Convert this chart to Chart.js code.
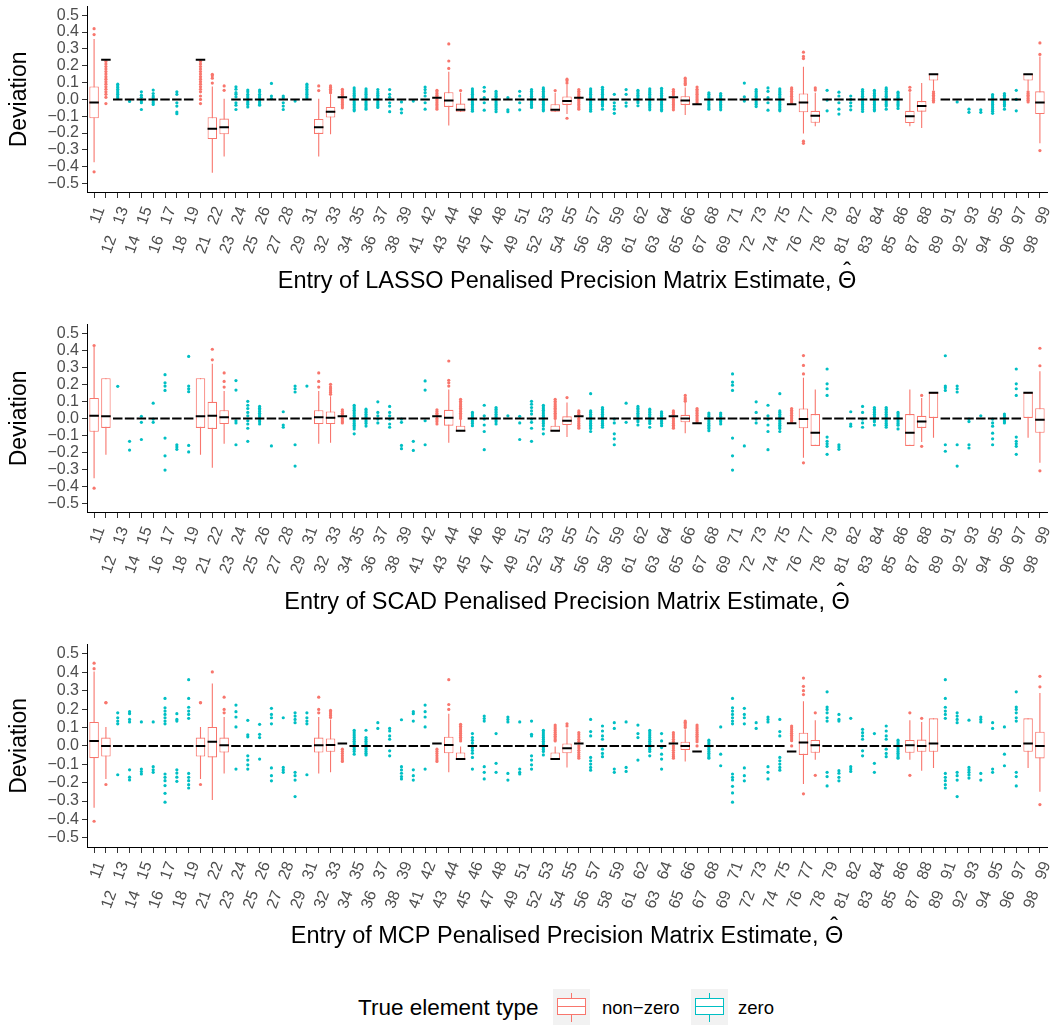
<!DOCTYPE html>
<html>
<head>
<meta charset="utf-8">
<script src="https://cdn.jsdelivr.net/npm/chart.js@4.4.1/dist/chart.umd.min.js"></script>
<style>
  body { margin: 0; background: #fff; font-family: "Liberation Sans", Arial, Helvetica, sans-serif; }
  #page { position: relative; width: 1057px; height: 1025px; overflow: hidden; background: #fff; }
  .panel { position: absolute; left: 0; width: 1057px; }
  #legendTitle { position: absolute; left: 358px; top: 995px; font-size: 22.5px; line-height: 26px; color: #000; white-space: nowrap; }
  .key { position: absolute; top: 989px; width: 37px; height: 36px; background: #F2F2F2; }
  .key .whisker { position: absolute; left: 18px; top: 4px; width: 1.2px; height: 29px; }
  .key .box { position: absolute; left: 4px; top: 9px; width: 29px; height: 17px; box-sizing: border-box; border: 1.2px solid; background: #fff; }
  .key .mid { position: absolute; left: 4px; top: 17px; width: 29px; height: 1.2px; }
  .legendLabel { position: absolute; top: 997px; font-size: 18.5px; line-height: 22px; color: #000; white-space: nowrap; }
</style>
</head>
<body>
<div id="page">
  <div class="panel" style="top:0px;height:300px"><canvas id="lassoChart"></canvas></div>
  <div class="panel" style="top:318px;height:303px"><canvas id="scadChart"></canvas></div>
  <div class="panel" style="top:638px;height:317px"><canvas id="mcpChart"></canvas></div>

  <div id="legendTitle">True element type</div>
  <div class="key" style="left:553px">
    <div class="whisker" style="background:#F8766D"></div>
    <div class="box" style="border-color:#F8766D"></div>
    <div class="mid" style="background:#F8766D"></div>
  </div>
  <div class="legendLabel" style="left:602px">non&minus;zero</div>
  <div class="key" style="left:691px">
    <div class="whisker" style="background:#00BFC4"></div>
    <div class="box" style="border-color:#00BFC4"></div>
    <div class="mid" style="background:#00BFC4"></div>
  </div>
  <div class="legendLabel" style="left:738px">zero</div>
</div>

<script>
// matrix entries, row-major
const entries = [
  '11','12','13','14','15','16','17','18','19',
  '21','22','23','24','25','26','27','28','29',
  '31','32','33','34','35','36','37','38','39',
  '41','42','43','44','45','46','47','48','49',
  '51','52','53','54','55','56','57','58','59',
  '61','62','63','64','65','66','67','68','69',
  '71','72','73','74','75','76','77','78','79',
  '81','82','83','84','85','86','87','88','89',
  '91','92','93','94','95','96','97','98','99'
];

// 1 = true element is non-zero (tridiagonal)
const nonZero = [
  1,1,0,0,0,0,0,0,0,
  1,1,1,0,0,0,0,0,0,
  0,1,1,1,0,0,0,0,0,
  0,0,1,1,1,0,0,0,0,
  0,0,0,1,1,1,0,0,0,
  0,0,0,0,1,1,1,0,0,
  0,0,0,0,0,1,1,1,0,
  0,0,0,0,0,0,1,1,1,
  0,0,0,0,0,0,0,1,1
];

const yTicks = [-0.5, -0.4, -0.3, -0.2, -0.1, 0, 0.1, 0.2, 0.3, 0.4, 0.5];

// ---- LASSO ----
const lassoQ1 = [
  -0.112, 0.236, 0, 0, 0, 0, 0, 0, 0,
  0.236, -0.236, -0.207, 0, 0, 0, 0, 0, 0,
  0, -0.205, -0.108, 0.012, 0, 0, 0, 0, 0,
  0, 0, 0.01, -0.045, -0.073, 0, 0, 0, 0,
  0, 0, 0, -0.073, -0.033, 0.01, 0, 0, 0,
  0, 0, 0, 0, 0.012, -0.033, -0.029, 0, 0,
  0, 0, 0, 0, 0, -0.029, -0.077, -0.139, 0,
  0, 0, 0, 0, 0, 0, -0.141, -0.073, 0.112,
  0, 0, 0, 0, 0, 0, 0, 0.112, -0.087
];
const lassoMed = [
  -0.019, 0.236, 0, 0, 0, 0, 0, 0, 0,
  0.236, -0.174, -0.166, 0, 0, 0, 0, 0, 0,
  0, -0.166, -0.073, 0.012, 0, 0, 0, 0, 0,
  0, 0, 0.01, -0.006, -0.062, 0, 0, 0, 0,
  0, 0, 0, -0.062, -0.01, 0.01, 0, 0, 0,
  0, 0, 0, 0, 0.012, -0.006, -0.029, 0, 0,
  0, 0, 0, 0, 0, -0.029, -0.019, -0.097, 0,
  0, 0, 0, 0, 0, 0, -0.1, -0.039, 0.149,
  0, 0, 0, 0, 0, 0, 0, 0.149, -0.019
];
const lassoQ3 = [
  0.077, 0.236, 0, 0, 0, 0, 0, 0, 0,
  0.236, -0.106, -0.114, 0, 0, 0, 0, 0, 0,
  0, -0.116, -0.045, 0.012, 0, 0, 0, 0, 0,
  0, 0, 0.01, 0.043, -0.025, 0, 0, 0, 0,
  0, 0, 0, -0.029, 0.017, 0.01, 0, 0, 0,
  0, 0, 0, 0, 0.012, 0.019, -0.029, 0, 0,
  0, 0, 0, 0, 0, -0.029, 0.035, -0.068, 0,
  0, 0, 0, 0, 0, 0, -0.068, -0.01, 0.151,
  0, 0, 0, 0, 0, 0, 0, 0.151, 0.048
];
const lassoLo = [
  -0.373, 0.236, 0, 0, 0, 0, 0, 0, 0,
  0.236, -0.435, -0.339, 0, 0, 0, 0, 0, 0,
  0, -0.339, -0.207, 0.012, 0, 0, 0, 0, 0,
  0, 0, 0.01, -0.155, -0.075, 0, 0, 0, 0,
  0, 0, 0, -0.075, -0.087, 0.01, 0, 0, 0,
  0, 0, 0, 0, 0.012, -0.093, -0.029, 0, 0,
  0, 0, 0, 0, 0, -0.029, -0.203, -0.159, 0,
  0, 0, 0, 0, 0, 0, -0.159, -0.17, 0.054,
  0, 0, 0, 0, 0, 0, 0, 0.054, -0.261
];
const lassoHi = [
  0.358, 0.236, 0, 0, 0, 0, 0, 0, 0,
  0.236, 0.077, 0.004, 0, 0, 0, 0, 0, 0,
  0, 0.004, 0.03, 0.012, 0, 0, 0, 0, 0,
  0, 0, 0.01, 0.164, 0.039, 0, 0, 0, 0,
  0, 0, 0, 0.039, 0.087, 0.01, 0, 0, 0,
  0, 0, 0, 0, 0.012, 0.07, -0.029, 0, 0,
  0, 0, 0, 0, 0, -0.029, 0.193, 0.039, 0,
  0, 0, 0, 0, 0, 0, 0.043, 0.097, 0.151,
  0, 0, 0, 0, 0, 0, 0, 0.151, 0.255
];
const lassoOut = [
  // 11-19
  [0.42, 0.385, -0.43],
  [0.225, 0.21, 0.195, 0.18, 0.165, 0.15, 0.135, 0.12, 0.105, 0.09, 0.075, 0.06, 0.045, 0.03, 0.012, -0.025],
  [0.09, 0.08, 0.07, 0.06, 0.05, 0.04, 0.03, 0.02, 0.01],
  [-0.012],
  [0.045, 0.025, 0.012, -0.01, -0.02, -0.06],
  [0.055, 0.035, 0.02, 0.01, -0.01, -0.02, -0.03],
  [],
  [0.045, 0.03, -0.02, -0.04, -0.075, -0.085],
  [],
  // 21-29
  [0.225, 0.21, 0.195, 0.18, 0.165, 0.15, 0.135, 0.12, 0.105, 0.09, 0.075, 0.06, 0.045, 0.02, 0.0, -0.025],
  [0.097, 0.126, 0.14, 0.149],
  [0.054, 0.08],
  [0.075, 0.06, 0.04, 0.03, 0.015, -0.02, -0.035, -0.06],
  [0.055, 0.045, 0.03, 0.02, 0.01, -0.01, -0.02, -0.03, -0.045],
  [0.055, 0.045, 0.03, 0.02, 0.01, -0.01, -0.02, -0.03, -0.035],
  [0.095, 0.02, 0.005],
  [0.02, 0.01, -0.02, -0.04, -0.06],
  [-0.01],
  // 31-39
  [0.09, 0.08, 0.07, 0.06, 0.05, 0.04, 0.03, 0.02, 0.01],
  [0.052, 0.08],
  [0.04, 0.05, 0.06, 0.07, 0.08],
  [0.06, 0.05, 0.04, 0.03, 0.02, 0.0, -0.01, -0.02, -0.03, -0.04, -0.05],
  [0.068, 0.055, 0.045, 0.035, 0.025, 0.015, 0.005, -0.01, -0.02, -0.03, -0.04, -0.05, -0.06, -0.068],
  [0.062, 0.05, 0.04, 0.03, 0.02, 0.01, -0.01, -0.02, -0.03, -0.04, -0.05, -0.058],
  [0.058, 0.045, 0.035, 0.025, 0.015, 0.005, -0.01, -0.02, -0.03, -0.04, -0.048],
  [0.058, 0.03, 0.012, -0.02, -0.04, -0.073],
  [-0.015, -0.058, -0.08],
  // 41-49
  [-0.01],
  [0.073, 0.058, 0.04, 0.02, -0.02, -0.058],
  [0.054, 0.045, 0.035, 0.025, 0.015, 0.0, -0.01, -0.02, -0.03, -0.04, -0.05, -0.058],
  [0.184, 0.228, 0.329],
  [0.052],
  [0.062, 0.05, 0.04, 0.03, 0.02, 0.01, -0.01, -0.02, -0.03, -0.04, -0.05, -0.06, -0.07],
  [0.072, 0.048, 0.01, -0.02, -0.064],
  [0.048, 0.038, 0.028, 0.018, 0.008, -0.01, -0.02, -0.03, -0.04, -0.05, -0.06, -0.073],
  [0.01, -0.062, -0.073],
  // 51-59
  [0.048, 0.02, -0.02, -0.062],
  [0.058, 0.048, 0.038, 0.028, 0.018, 0.008, -0.01, -0.02, -0.03, -0.04, -0.048],
  [0.068, 0.058, 0.048, 0.038, 0.028, 0.018, 0.008, -0.01, -0.02, -0.03, -0.04, -0.05, -0.06, -0.068],
  [0.052],
  [0.097, 0.11, 0.12, -0.112],
  [0.058, 0.048, 0.038, 0.028, 0.018, 0.0, -0.01, -0.02, -0.03, -0.04, -0.05, -0.058],
  [0.062, 0.05, 0.04, 0.03, 0.02, 0.01, -0.01, -0.02, -0.03, -0.04, -0.05, -0.06, -0.07],
  [0.072, 0.06, 0.05, 0.04, 0.03, 0.02, 0.01, -0.01, -0.02, -0.03, -0.04, -0.058],
  [0.03, -0.02, -0.04, -0.058, -0.083],
  // 61-69
  [0.058, 0.03, -0.02, -0.04],
  [0.054, 0.045, 0.035, 0.025, 0.015, 0.005, -0.01, -0.02, -0.038],
  [0.062, 0.05, 0.04, 0.03, 0.02, 0.01, -0.01, -0.02, -0.03, -0.04, -0.05, -0.062],
  [0.066, 0.055, 0.045, 0.035, 0.025, 0.015, 0.005, -0.01, -0.02, -0.03, -0.04, -0.05, -0.06, -0.068],
  [0.058, 0.048, 0.038, 0.028, 0.0, -0.01, -0.02, -0.03, -0.04, -0.05, -0.062],
  [0.087, 0.095, 0.105, 0.115, 0.126],
  [0.073, 0.06, 0.05, 0.04, 0.03, 0.02, 0.01, 0.0, -0.01, -0.02],
  [0.039, 0.03, 0.02, 0.01, -0.01, -0.02, -0.03, -0.04, -0.05, -0.058],
  [0.035, 0.025, 0.015, 0.005, -0.01, -0.02, -0.03, -0.04, -0.05, -0.062],
  // 71-79
  [],
  [0.097, 0.015, -0.01],
  [0.058, 0.048, 0.038, 0.028, 0.018, 0.008, -0.01, -0.02, -0.03, -0.043],
  [0.068, 0.048, 0.01, -0.02, -0.064],
  [0.062, 0.05, 0.04, 0.03, 0.02, 0.01, -0.01, -0.02, -0.03, -0.04, -0.05, -0.06, -0.068],
  [0.068, 0.058, 0.048, 0.038, 0.028, 0.018, 0.008, 0.0, -0.01, -0.02],
  [0.242, 0.255, 0.28, -0.248, -0.261],
  [0.055, 0.068],
  [0.054, -0.004, -0.068],
  // 81-89
  [0.043, 0.02, -0.02, -0.058, -0.087],
  [0.02, 0.0, -0.02, -0.04, -0.062],
  [0.058, 0.048, 0.038, 0.028, 0.018, 0.008, -0.01, -0.02, -0.03, -0.04, -0.05, -0.06, -0.072],
  [0.054, 0.045, 0.035, 0.025, 0.015, 0.005, -0.01, -0.02, -0.03, -0.04, -0.05, -0.06, -0.068],
  [0.068, 0.058, 0.048, 0.038, 0.028, 0.018, 0.008, -0.01, -0.02, -0.03, -0.04, -0.058],
  [0.043, 0.033, 0.023, 0.013, 0.003, -0.01, -0.02, -0.03, -0.04, -0.054],
  [0.054, 0.072],
  [],
  [0.045, 0.035, 0.025, 0.015, 0.005, -0.005, -0.015],
  // 91-99
  [],
  [-0.015],
  [-0.058, -0.077],
  [-0.062, -0.077],
  [0.029, 0.02, 0.01, -0.01, -0.02, -0.03, -0.04, -0.05, -0.06, -0.07, -0.083],
  [0.035, 0.025, 0.015, 0.005, -0.01, -0.02, -0.03, -0.04, -0.058],
  [0.054, 0.0, -0.068],
  [0.045, 0.035, 0.025, 0.015, 0.005, -0.005, -0.015],
  [0.267, 0.335, -0.304]
];

// ---- SCAD ----
const scadQ1 = [
  -0.079, -0.056, 0, 0, 0, 0, 0, 0, 0,
  -0.056, -0.062, -0.033, 0, 0, 0, 0, 0, 0,
  0, -0.033, -0.033, 0.012, 0, 0, 0, 0, 0,
  0, 0, 0.012, -0.043, -0.075, 0, 0, 0, 0,
  0, 0, 0, -0.075, -0.039, 0.012, 0, 0, 0,
  0, 0, 0, 0, 0.012, -0.023, -0.029, 0, 0,
  0, 0, 0, 0, 0, -0.029, -0.058, -0.162, 0,
  0, 0, 0, 0, 0, 0, -0.162, -0.056, 0,
  0, 0, 0, 0, 0, 0, 0, 0, -0.085
];
const scadMed = [
  0.015, 0.012, 0, 0, 0, 0, 0, 0, 0,
  0.012, 0.015, 0.006, 0, 0, 0, 0, 0, 0,
  0, 0.006, 0.004, 0.012, 0, 0, 0, 0, 0,
  0, 0, 0.012, 0.004, -0.072, 0, 0, 0, 0,
  0, 0, 0, -0.072, -0.014, 0.012, 0, 0, 0,
  0, 0, 0, 0, 0.012, 0, -0.029, 0, 0,
  0, 0, 0, 0, 0, -0.029, -0.004, -0.085, 0,
  0, 0, 0, 0, 0, 0, -0.085, -0.019, 0.151,
  0, 0, 0, 0, 0, 0, 0, 0.151, -0.008
];
const scadQ3 = [
  0.12, 0.236, 0, 0, 0, 0, 0, 0, 0,
  0.236, 0.097, 0.048, 0, 0, 0, 0, 0, 0,
  0, 0.048, 0.041, 0.012, 0, 0, 0, 0, 0,
  0, 0, 0.012, 0.05, -0.043, 0, 0, 0, 0,
  0, 0, 0, -0.043, 0.012, 0.012, 0, 0, 0,
  0, 0, 0, 0, 0.012, 0.021, -0.029, 0, 0,
  0, 0, 0, 0, 0, -0.029, 0.058, 0.025, 0,
  0, 0, 0, 0, 0, 0, 0.025, 0.015, 0.151,
  0, 0, 0, 0, 0, 0, 0, 0.151, 0.06
];
const scadLo = [
  -0.352, -0.213, 0, 0, 0, 0, 0, 0, 0,
  -0.213, -0.29, -0.149, 0, 0, 0, 0, 0, 0,
  0, -0.149, -0.143, 0.012, 0, 0, 0, 0, 0,
  0, 0, 0.012, -0.143, -0.075, 0, 0, 0, 0,
  0, 0, 0, -0.075, -0.11, 0.012, 0, 0, 0,
  0, 0, 0, 0, 0.012, -0.087, -0.029, 0, 0,
  0, 0, 0, 0, 0, -0.029, -0.232, -0.162, 0,
  0, 0, 0, 0, 0, 0, -0.162, -0.139, -0.114,
  0, 0, 0, 0, 0, 0, 0, -0.114, -0.261
];
const scadHi = [
  0.42, 0.236, 0, 0, 0, 0, 0, 0, 0,
  0.236, 0.321, 0.161, 0, 0, 0, 0, 0, 0,
  0, 0.161, 0.13, 0.012, 0, 0, 0, 0, 0,
  0, 0, 0.012, 0.17, -0.01, 0, 0, 0, 0,
  0, 0, 0, -0.01, 0.093, 0.012, 0, 0, 0,
  0, 0, 0, 0, 0.012, 0.09, -0.029, 0, 0,
  0, 0, 0, 0, 0, -0.029, 0.238, 0.17, 0,
  0, 0, 0, 0, 0, 0, 0.17, 0.12, 0.151,
  0, 0, 0, 0, 0, 0, 0, 0.151, 0.277
];
const scadOut = [
  // 11-19
  [0.428, -0.41],
  [],
  [0.188],
  [-0.135, -0.186],
  [0.012, -0.023, -0.124],
  [0.089, -0.004, -0.023],
  [0.257, 0.209, 0.19, 0.164, -0.116, -0.22, -0.304],
  [-0.155, -0.168, -0.182],
  [0.364, 0.19, 0.174, 0.157, -0.159, -0.197],
  // 21-29
  [],
  [0.344, 0.406],
  [0.184, 0.217, 0.267],
  [0.222, 0.166, -0.014, -0.027, -0.155],
  [0.1, 0.077, 0.058, 0.035, 0.015, -0.014, -0.033, -0.058, -0.135],
  [0.07, 0.06, 0.05, 0.04, 0.03, 0.02, 0.01, -0.01, -0.02, -0.033],
  [-0.162],
  [0.039, -0.039, -0.052],
  [0.19, 0.174, 0.155, -0.155, -0.28],
  // 31-39
  [0.19],
  [0.184, 0.217, 0.267],
  [0.141, 0.152, 0.163, 0.174, 0.185, 0.2],
  [0.05, 0.04, 0.03, 0.02, 0.0, -0.01, -0.02, -0.027],
  [0.077, 0.067, 0.057, 0.047, 0.037, 0.027, 0.017, 0.007, -0.01, -0.02, -0.03, -0.04, -0.05, -0.062, -0.091],
  [0.054, 0.044, 0.034, 0.024, 0.014, 0.004, -0.01, -0.02, -0.03, -0.045],
  [0.097, 0.035, 0.015, -0.004, -0.027],
  [0.07, 0.035, 0.015, -0.004, -0.033, -0.052],
  [-0.004, -0.023, -0.159, -0.178],
  // 41-49
  [-0.135, -0.188],
  [0.22, 0.166, -0.014, -0.155],
  [0.05, 0.04, 0.03, 0.02, 0.0, -0.01, -0.02, -0.033],
  [0.19, 0.209, 0.224, 0.337],
  [0.112, 0.1, 0.09, 0.08, 0.07, 0.06, 0.05, 0.04, 0.03, 0.02, 0.01, 0.0],
  [0.035, 0.025, 0.015, 0.005, -0.01, -0.02, -0.03, -0.043],
  [0.077, 0.015, -0.004, -0.039, -0.077, -0.184],
  [0.064, 0.054, 0.044, 0.034, 0.024, 0.014, 0.004, -0.01, -0.02, -0.033],
  [0.015],
  // 51-59
  [0.012, -0.027, -0.124],
  [0.1, 0.083, 0.064, 0.044, 0.025, -0.004, -0.023, -0.058, -0.135],
  [0.077, 0.067, 0.057, 0.047, 0.037, 0.027, 0.017, 0.007, -0.01, -0.02, -0.03, -0.043, -0.062, -0.091],
  [0.112, 0.1, 0.09, 0.08, 0.07, 0.06, 0.05, 0.04, 0.03, 0.02, 0.01, 0.0],
  [0.122],
  [0.044, 0.034, 0.024, 0.0, -0.01, -0.02, -0.03, -0.04, -0.05, -0.058],
  [0.145, 0.044, 0.034, 0.024, 0.014, 0.004, -0.01, -0.02, -0.03, -0.04, -0.05, -0.06, -0.077],
  [0.064, 0.054, 0.044, 0.034, 0.024, 0.014, 0.004, -0.01, -0.02, -0.03, -0.04, -0.052],
  [-0.004, -0.027, -0.091, -0.12, -0.155],
  // 61-69
  [0.089, -0.023],
  [0.07, 0.06, 0.05, 0.04, 0.03, 0.02, 0.01, -0.01, -0.02, -0.039],
  [0.054, 0.044, 0.034, 0.024, 0.014, 0.004, -0.01, -0.02, -0.03, -0.052],
  [0.039, 0.029, 0.019, 0.009, -0.01, -0.02, -0.03, -0.043],
  [0.044, 0.034, 0.024, 0.0, -0.01, -0.02, -0.03, -0.04, -0.05, -0.058],
  [0.1, 0.11, 0.12, 0.135],
  [0.058, 0.048, 0.038, 0.028, 0.018, 0.008, -0.002, -0.012, -0.022],
  [0.031, 0.021, 0.011, -0.01, -0.02, -0.03, -0.04, -0.05, -0.06, -0.072],
  [0.031, 0.021, 0.011, -0.01, -0.02, -0.033],
  // 71-79
  [0.261, 0.213, 0.195, 0.164, -0.116, -0.22, -0.304],
  [-0.162],
  [0.097, 0.035, -0.004, -0.027],
  [0.077, 0.015, -0.004, -0.039, -0.077, -0.184],
  [0.145, 0.044, 0.034, 0.024, 0.014, 0.004, -0.01, -0.02, -0.03, -0.04, -0.05, -0.06, -0.077],
  [0.058, 0.048, 0.038, 0.028, 0.018, 0.008, -0.002, -0.012, -0.022],
  [0.261, 0.311, 0.369, -0.261],
  [],
  [0.29, 0.203, 0.174, 0.135, -0.11, -0.135, -0.149, -0.164, -0.211],
  // 81-89
  [-0.155, -0.168, -0.182],
  [0.039, -0.033, -0.046],
  [0.07, 0.035, -0.004, -0.027, -0.052],
  [0.064, 0.054, 0.044, 0.034, 0.024, 0.014, 0.004, -0.01, -0.02, -0.039],
  [0.064, 0.054, 0.044, 0.034, 0.024, 0.014, 0.004, -0.01, -0.02, -0.03, -0.04, -0.052],
  [0.035, 0.025, 0.015, 0.005, -0.01, -0.02, -0.03, -0.04, -0.062],
  [],
  [0.135, -0.164],
  [],
  // 91-99
  [0.368, 0.19, 0.18, 0.164, -0.155, -0.193],
  [0.19, 0.174, 0.155, -0.155, -0.28],
  [-0.004, -0.019, -0.155, -0.174],
  [0.015],
  [-0.004, -0.027, -0.046, -0.087, -0.12, -0.155],
  [0.025, 0.015, 0.005, -0.01, -0.02, -0.027],
  [0.29, 0.203, 0.174, 0.135, -0.11, -0.135, -0.149, -0.164, -0.211],
  [],
  [0.309, 0.412, -0.308]
];

// ---- MCP ----
const mcpQ1 = [
  -0.067, -0.058, 0, 0, 0, 0, 0, 0, 0,
  -0.058, -0.063, -0.036, 0, 0, 0, 0, 0, 0,
  0, -0.036, -0.032, 0.013, 0, 0, 0, 0, 0,
  0, 0, 0.013, -0.04, -0.076, 0, 0, 0, 0,
  0, 0, 0, -0.076, -0.04, 0.013, 0, 0, 0,
  0, 0, 0, 0, 0.013, -0.023, -0.031, 0, 0,
  0, 0, 0, 0, 0, -0.031, -0.049, -0.038, 0,
  0, 0, 0, 0, 0, 0, -0.038, -0.032, -0.032,
  0, 0, 0, 0, 0, 0, 0, -0.032, -0.068
];
const mcpMed = [
  0.027, 0, 0, 0, 0, 0, 0, 0, 0,
  0, 0.022, 0.004, 0, 0, 0, 0, 0, 0,
  0, 0.004, 0.005, 0.013, 0, 0, 0, 0, 0,
  0, 0, 0.013, 0.005, -0.072, 0, 0, 0, 0,
  0, 0, 0, -0.072, -0.013, 0.013, 0, 0, 0,
  0, 0, 0, 0, 0.013, 0, -0.031, 0, 0,
  0, 0, 0, 0, 0, -0.031, 0.018, 0.004, 0,
  0, 0, 0, 0, 0, 0, 0.004, 0, 0.013,
  0, 0, 0, 0, 0, 0, 0, 0.013, 0
];
const mcpQ3 = [
  0.13, 0.045, 0, 0, 0, 0, 0, 0, 0,
  0.045, 0.103, 0.045, 0, 0, 0, 0, 0, 0,
  0, 0.045, 0.04, 0.013, 0, 0, 0, 0, 0,
  0, 0, 0.013, 0.05, -0.036, 0, 0, 0, 0,
  0, 0, 0, -0.036, 0.013, 0.013, 0, 0, 0,
  0, 0, 0, 0, 0.013, 0.023, -0.031, 0, 0,
  0, 0, 0, 0, 0, -0.031, 0.072, 0.032, 0,
  0, 0, 0, 0, 0, 0, 0.032, 0.034, 0.15,
  0, 0, 0, 0, 0, 0, 0, 0.15, 0.077
];
const mcpLo = [
  -0.337, -0.18, 0, 0, 0, 0, 0, 0, 0,
  -0.18, -0.294, -0.15, 0, 0, 0, 0, 0, 0,
  0, -0.15, -0.144, 0.013, 0, 0, 0, 0, 0,
  0, 0, 0.013, -0.144, -0.076, 0, 0, 0, 0,
  0, 0, 0, -0.076, -0.117, 0.013, 0, 0, 0,
  0, 0, 0, 0, 0.013, -0.085, -0.031, 0, 0,
  0, 0, 0, 0, 0, -0.031, -0.207, -0.076, 0,
  0, 0, 0, 0, 0, 0, -0.076, -0.135, -0.121,
  0, 0, 0, 0, 0, 0, 0, -0.121, -0.249
];
const mcpHi = [
  0.405, 0.103, 0, 0, 0, 0, 0, 0, 0,
  0.103, 0.339, 0.157, 0, 0, 0, 0, 0, 0,
  0, 0.157, 0.144, 0.013, 0, 0, 0, 0, 0,
  0, 0, 0.013, 0.175, 0, 0, 0, 0, 0,
  0, 0, 0, 0, 0.095, 0.013, 0, 0, 0,
  0, 0, 0, 0, 0.013, 0.09, -0.031, 0, 0,
  0, 0, 0, 0, 0, -0.031, 0.243, 0.139, 0,
  0, 0, 0, 0, 0, 0, 0.139, 0.13, 0.15,
  0, 0, 0, 0, 0, 0, 0, 0.15, 0.288
];
const mcpOut = [
  // 11-19
  [0.42, 0.45, -0.41],
  [0.234, 0.236, -0.21],
  [0.18, 0.153, 0.135, 0.12, -0.157],
  [0.186, 0.175, 0.144, 0.13, -0.13, -0.17, -0.185],
  [0.13, -0.126, -0.14, -0.153],
  [0.13, -0.113, -0.13, -0.144],
  [0.258, 0.207, 0.189, 0.171, 0.153, 0.135, 0.12, -0.153, -0.171, -0.189, -0.216, -0.258, -0.306],
  [0.175, 0.144, 0.135, -0.13, -0.148, -0.17, -0.193],
  [0.36, 0.258, 0.21, 0.189, 0.171, 0.15, -0.15, -0.171, -0.189, -0.211, -0.229],
  // 21-29
  [0.234, 0.236, -0.21],
  [0.402],
  [0.18, 0.198, 0.265],
  [0.222, 0.186, 0.157, 0.103, -0.126],
  [0.139, 0.06, 0.049, -0.054, -0.077, -0.103, -0.126],
  [0.117, 0.063, 0.045, -0.072],
  [0.204, 0.171, 0.153, 0.12, -0.12, -0.162, -0.19],
  [0.153, -0.117, -0.131, -0.144],
  [0.18, 0.162, 0.144, 0.126, -0.144, -0.162, -0.186, -0.276],
  // 31-39
  [0.18, 0.153, 0.135, 0.12, -0.157],
  [0.18, 0.198, 0.265],
  [0.155, 0.165, 0.175, 0.185, 0.193],
  [-0.018, -0.03, -0.042, -0.054, -0.066, -0.077, -0.085],
  [0.085, 0.075, 0.065, 0.055, 0.045, 0.035, 0.025, 0.015, 0.005, -0.01, -0.02, -0.03, -0.045],
  [0.085, 0.045, 0.035, 0.025, 0.015, 0.005, -0.01, -0.02, -0.03, -0.04, -0.049],
  [0.126, 0.095],
  [0.095, 0.081, 0.054, 0.036, -0.027, -0.054],
  [0.142, -0.113, -0.131, -0.149, -0.167, -0.18],
  // 41-49
  [0.186, 0.175, 0.135, -0.13, -0.162, -0.186],
  [0.222, 0.186, 0.157, 0.103, -0.126],
  [-0.018, -0.03, -0.042, -0.054, -0.066, -0.077, -0.085],
  [0.198, 0.225, 0.36],
  [0.117, 0.107, 0.097, 0.087, 0.077, 0.067, 0.057, 0.047, 0.037, 0.027],
  [0.067, 0.045, 0.03, 0.015, -0.01, -0.025, -0.04, -0.063, -0.126],
  [0.162, 0.149, 0.135, -0.113, -0.144, -0.18],
  [0.067, -0.095, -0.144],
  [0.157, 0.144, 0.13, -0.15, -0.186],
  // 51-59
  [0.13, -0.126, -0.144, -0.153],
  [0.135, 0.063, 0.054, -0.054, -0.077, -0.103, -0.126],
  [0.085, 0.075, 0.065, 0.055, 0.045, 0.035, 0.025, 0.015, 0.005, -0.01, -0.02, -0.03, -0.049],
  [0.113, 0.103, 0.093, 0.083, 0.073, 0.063, 0.053, 0.043, 0.033, 0.027],
  [0.12, 0.108],
  [0.072, 0.06, 0.048, 0.036, 0.024, 0.0, -0.012, -0.024, -0.036, -0.048, -0.058, -0.067],
  [0.144, 0.078, 0.054, -0.063, -0.081, -0.099, -0.117, -0.132],
  [0.108, 0.081, 0.054, 0.036, -0.018, -0.041, -0.059],
  [0.126, 0.095, -0.126, -0.144],
  // 61-69
  [0.13, -0.117, -0.139],
  [0.113, 0.067, 0.045, -0.077],
  [0.085, 0.075, 0.065, 0.055, 0.045, 0.035, 0.025, 0.015, 0.005, -0.01, -0.02, -0.03, -0.054],
  [0.067, 0.027, -0.009, -0.045, -0.072, -0.126],
  [0.072, 0.06, 0.048, 0.036, 0.024, 0.0, -0.012, -0.024, -0.036, -0.048, -0.058, -0.067],
  [0.1, 0.11, 0.12, 0.128, 0.135],
  [0.113, 0.103, 0.093, 0.083, 0.073, 0.063, 0.053, 0.043, 0.033, 0.023, 0.0],
  [0.031, 0.021, 0.011, 0.001, -0.01, -0.02, -0.03, -0.04, -0.05, -0.06, -0.067],
  [0.103, -0.045, -0.108],
  // 71-79
  [0.258, 0.207, 0.189, 0.171, 0.153, 0.135, 0.12, -0.153, -0.171, -0.185, -0.22, -0.256, -0.306],
  [0.204, 0.171, 0.153, 0.12, -0.12, -0.162, -0.19],
  [0.126, 0.095],
  [0.157, 0.144, 0.13, -0.113, -0.144, -0.18],
  [0.144, 0.078, 0.054, -0.063, -0.081, -0.099, -0.117, -0.132],
  [0.108, 0.098, 0.088, 0.078, 0.068, 0.058, 0.048, 0.038, 0.028, 0.0],
  [0.279, 0.3, 0.324, 0.369, -0.261],
  [0.18, -0.16],
  [0.294, 0.211, 0.198, 0.18, 0.153, 0.135, -0.144, -0.167, -0.218],
  // 81-89
  [0.171, 0.144, 0.135, -0.135, -0.149, -0.171, -0.19],
  [0.15, -0.113, -0.126, -0.139],
  [0.09, 0.072, 0.054, 0.036, -0.027, -0.054],
  [0.067, -0.095, -0.144],
  [0.108, 0.081, 0.054, 0.036, -0.018, -0.041, -0.059],
  [0.031, 0.021, 0.011, 0.001, -0.01, -0.02, -0.03, -0.04, -0.05, -0.06, -0.067],
  [0.18, -0.16],
  [0.15],
  [],
  // 91-99
  [0.36, 0.258, 0.21, 0.189, 0.171, 0.15, -0.15, -0.171, -0.189, -0.211, -0.229],
  [0.18, 0.162, 0.144, 0.126, -0.144, -0.162, -0.186, -0.276],
  [0.14, -0.117, -0.131, -0.144, -0.158, -0.175],
  [0.157, 0.144, 0.13, -0.15, -0.186],
  [0.126, 0.095, -0.126, -0.144],
  [0.103, -0.045, -0.108],
  [0.294, 0.211, 0.198, 0.18, 0.153, 0.135, -0.144, -0.167, -0.218],
  [],
  [0.321, 0.378, -0.319]
];

const RED = '#F8766D';
const TEAL = '#00BFC4';
const FONT = '"Liberation Sans", Arial, Helvetica, sans-serif';
const tickFont = { family: FONT, size: 16 };
const yTitleFont = { family: FONT, size: 23 };
const xTitleFont = { family: FONT, size: 23.5 };
const TITLE_PAD = 4;

function typeColour(i) {
  return nonZero[i] ? RED : TEAL;
}

// one boxplot per entry: outliers, whisker, box and median as separate layers
function boxDatasets(q1, med, q3, lo, hi, out) {
  const idx = entries.map((_, i) => i);
  const barCommon = {
    type: 'bar', grouped: false, barPercentage: 1, categoryPercentage: 1,
    inflateAmount: 0, borderSkipped: false
  };
  return [
    {
      type: 'scatter',
      data: out.flatMap((vals, i) => vals.map(v => ({ x: i, y: v }))),
      pointRadius: 1.6, pointBorderWidth: 0,
      pointBackgroundColor: ctx => typeColour(ctx.raw.x),
      order: 3
    },
    Object.assign({}, barCommon, {
      data: idx.map(i => ({ x: i, y: [lo[i], hi[i]] })),
      backgroundColor: idx.map(typeColour),
      borderWidth: 0, maxBarThickness: 1.1,
      order: 2
    }),
    Object.assign({}, barCommon, {
      data: idx.map(i => ({ x: i, y: [q1[i], q3[i]] })),
      backgroundColor: '#ffffff',
      borderColor: idx.map(typeColour),
      borderWidth: 1.1, maxBarThickness: 9.5,
      order: 1
    }),
    {
      type: 'scatter',
      data: idx.map(i => ({ x: i, y: med[i] })),
      pointStyle: 'line', pointRadius: 4.75,
      pointBorderWidth: 2, pointBorderColor: '#000000',
      order: 0
    }
  ];
}

function entryTicks(scale) {
  scale.ticks = entries.map((_, i) => ({ value: i }));
}

// puts a hat over the closing Theta of the x axis title
const thetaHat = {
  id: 'thetaHat',
  afterDraw(chart) {
    const s = chart.scales.x2;
    const t = s.options.title;
    const ctx = chart.ctx;
    const size = t.font.size;
    const cx = (s.left + s.right) / 2;
    const cy = s.bottom - size * 1.2 / 2 - TITLE_PAD;
    ctx.save();
    ctx.font = size + 'px ' + FONT;
    const total = ctx.measureText(t.text).width;
    const theta = ctx.measureText('\u0398').width;
    ctx.fillStyle = '#000000';
    ctx.textAlign = 'center';
    ctx.textBaseline = 'alphabetic';
    ctx.fillText('\u02C6', cx + total / 2 - theta / 2, cy - 3);
    ctx.restore();
  }
};

function makePanel(id, title, stats, geom) {
  new Chart(document.getElementById(id), {
    type: 'bar',
    data: { datasets: boxDatasets.apply(null, stats) },
    plugins: [thetaHat],
    options: {
      responsive: true,
      maintainAspectRatio: false,
      animation: false,
      events: [],
      layout: { padding: { top: geom.padTop, right: 10, bottom: 0, left: 0 } },
      plugins: { legend: { display: false }, tooltip: { enabled: false } },
      scales: {
        x: {
          type: 'linear', axis: 'x', position: 'bottom', weight: 0,
          min: -0.6, max: 80.6, offset: false,
          afterBuildTicks: entryTicks,
          afterFit: s => { s.height = 36; s.paddingLeft = 0; s.paddingRight = 0; },
          grid: { display: true, offset: false, drawOnChartArea: false, drawTicks: true, tickLength: 6, color: '#333333', lineWidth: 1 },
          border: { display: true, color: '#000000', width: 1 },
          ticks: {
            autoSkip: false, minRotation: 70, maxRotation: 70, padding: 6, labelOffset: 6.5,
            font: tickFont, color: '#4D4D4D',
            callback: v => (v % 2 === 0 ? entries[v] : '')
          }
        },
        x2: {
          type: 'linear', axis: 'x', position: 'bottom', weight: 1,
          min: -0.6, max: 80.6, offset: false,
          afterBuildTicks: entryTicks,
          afterFit: s => { s.height = geom.h2; s.paddingLeft = 0; s.paddingRight = 0; },
          grid: { display: false, drawTicks: false, offset: false },
          border: { display: false },
          ticks: {
            autoSkip: false, minRotation: 70, maxRotation: 70, padding: 5, labelOffset: 6.5,
            font: tickFont, color: '#4D4D4D',
            callback: v => (v % 2 === 1 ? entries[v] : '')
          },
          title: { display: true, text: title, font: xTitleFont, color: '#000000', padding: { top: 0, bottom: TITLE_PAD } }
        },
        y: {
          type: 'linear', min: -0.55, max: 0.55,
          afterBuildTicks: s => { s.ticks = yTicks.map(v => ({ value: v })); },
          afterFit: s => { s.width = 87; s.paddingTop = 0; s.paddingBottom = 0; },
          grid: { display: true, drawOnChartArea: false, drawTicks: true, tickLength: 5, color: '#333333', lineWidth: 1 },
          border: { display: true, color: '#000000', width: 1 },
          ticks: {
            autoSkip: false, padding: 3, font: tickFont, color: '#4D4D4D',
            callback: v => (v < 0 ? '\u2212' : '') + Math.abs(v).toFixed(1)
          },
          title: { display: true, text: 'Deviation', font: yTitleFont, color: '#000000', padding: { top: 6, bottom: 0 } }
        }
      }
    }
  });
}

makePanel('lassoChart', 'Entry of LASSO Penalised Precision Matrix Estimate, \u0398',
  [lassoQ1, lassoMed, lassoQ3, lassoLo, lassoHi, lassoOut], { padTop: 2, h2: 72 });
makePanel('scadChart', 'Entry of SCAD Penalised Precision Matrix Estimate, \u0398',
  [scadQ1, scadMed, scadQ3, scadLo, scadHi, scadOut], { padTop: 5, h2: 73 });
makePanel('mcpChart', 'Entry of MCP Penalised Precision Matrix Estimate, \u0398',
  [mcpQ1, mcpMed, mcpQ3, mcpLo, mcpHi, mcpOut], { padTop: 5, h2: 72 });
</script>
</body>
</html>
